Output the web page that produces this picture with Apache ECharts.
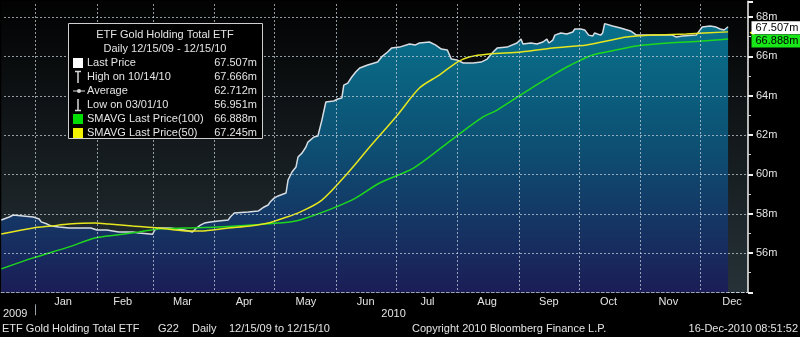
<!DOCTYPE html>
<html>
<head>
<meta charset="utf-8">
<script src="https://cdn.jsdelivr.net/npm/echarts@6/dist/echarts.min.js"></script>
<style>
  html, body { margin: 0; padding: 0; background: #000; }
  #chart { width: 800px; height: 337px; }
</style>
</head>
<body>
<div id="chart"></div>
<script>
// ETF gold holdings (millions of ounces), daily, 12/15/09 - 12/15/10
const priceDates = [
  '2009-12-15','2009-12-16','2009-12-19','2009-12-21','2009-12-22','2009-12-31',
  '2010-01-03','2010-01-04','2010-01-07','2010-01-09','2010-01-13','2010-01-18','2010-01-29',
  '2010-02-01','2010-02-03','2010-02-04','2010-02-06','2010-02-07','2010-02-12','2010-02-19','2010-02-22',
  '2010-03-01','2010-03-02','2010-03-04','2010-03-10','2010-03-17','2010-03-21','2010-03-23','2010-03-25','2010-03-27','2010-03-30',
  '2010-04-03','2010-04-08','2010-04-09','2010-04-11','2010-04-18','2010-04-23','2010-04-24','2010-04-26','2010-04-28','2010-04-29',
  '2010-05-01','2010-05-03','2010-05-07','2010-05-08','2010-05-10','2010-05-12','2010-05-13','2010-05-15','2010-05-17','2010-05-18',
  '2010-05-21','2010-05-23','2010-05-25','2010-05-27','2010-05-31',
  '2010-06-02','2010-06-04','2010-06-05','2010-06-07','2010-06-09','2010-06-11','2010-06-13','2010-06-17','2010-06-22','2010-06-24',
  '2010-06-27','2010-06-29',
  '2010-07-03','2010-07-08','2010-07-11','2010-07-13','2010-07-18','2010-07-21','2010-07-24','2010-07-27','2010-07-29',
  '2010-08-01','2010-08-04','2010-08-09','2010-08-13','2010-08-16','2010-08-19','2010-08-21','2010-08-26','2010-08-31',
  '2010-09-02','2010-09-03','2010-09-07','2010-09-10','2010-09-13','2010-09-15','2010-09-16','2010-09-18','2010-09-19',
  '2010-09-22','2010-09-25','2010-09-28','2010-09-29',
  '2010-10-02','2010-10-04','2010-10-06','2010-10-08','2010-10-09','2010-10-12','2010-10-13','2010-10-14','2010-10-18',
  '2010-10-22','2010-10-27','2010-10-30',
  '2010-11-07','2010-11-08','2010-11-17','2010-11-19','2010-11-22','2010-11-29',
  '2010-12-02','2010-12-06','2010-12-09','2010-12-11','2010-12-12','2010-12-13','2010-12-15'
];
const priceValues = [
  57.68,57.78,57.83,57.93,57.83,57.83,
  57.73,57.58,57.47,57.37,57.32,57.27,57.27,
  57.17,57.17,57.07,57.17,57.07,57.07,57.07,57.02,
  56.951,57.17,57.27,57.27,57.17,57.07,57.27,57.42,57.52,57.58,
  57.63,57.68,57.83,58.03,58.08,58.13,58.23,58.34,58.44,58.59,
  58.79,58.90,59.05,59.71,60.12,60.37,60.88,61.08,61.39,61.64,
  61.90,61.95,62.76,63.68,63.73,
  63.83,63.88,64.54,64.64,64.95,65.20,65.41,65.56,65.71,65.97,
  66.22,66.42,
  66.47,66.63,66.58,66.68,66.73,66.58,66.37,66.32,65.86,
  65.81,65.66,65.66,65.71,65.86,66.22,66.42,66.47,66.68,
  66.88,66.63,66.68,66.63,66.73,66.88,66.68,66.83,67.08,
  67.19,67.14,67.24,67.39,
  67.39,67.34,67.08,67.03,67.19,67.08,67.19,67.666,67.54,
  67.44,67.29,67.08,
  67.08,67.14,67.08,66.98,67.03,67.08,
  67.49,67.54,67.49,67.39,67.49,67.34,67.507
];

// 50-day simple moving average
const sma50Dates = [
  '2009-12-15','2009-12-31','2010-01-09','2010-01-18','2010-01-31','2010-02-07','2010-02-19',
  '2010-03-04','2010-03-19','2010-03-25','2010-04-08','2010-04-19','2010-04-28','2010-05-06',
  '2010-05-14','2010-05-25','2010-06-07','2010-06-18','2010-07-02','2010-07-13','2010-07-23',
  '2010-08-01','2010-08-07','2010-08-17','2010-09-02','2010-09-18','2010-10-05','2010-10-15',
  '2010-10-25','2010-11-07','2010-11-24','2010-12-15'
];
const sma50Values = [
  56.97,57.27,57.37,57.47,57.52,57.47,57.37,
  57.27,57.12,57.12,57.27,57.37,57.52,57.78,
  58.08,58.69,60.07,61.39,63.02,64.39,65.05,
  65.71,65.97,66.12,66.22,66.42,66.58,66.78,
  66.98,67.08,67.14,67.245
];

// 100-day simple moving average
const sma100Dates = [
  '2009-12-15','2009-12-31','2010-01-18','2010-01-31','2010-02-11','2010-02-22','2010-03-04',
  '2010-03-17','2010-04-03','2010-04-19','2010-05-03','2010-05-14','2010-06-09','2010-06-23',
  '2010-07-10','2010-07-27','2010-08-13','2010-08-21','2010-09-08','2010-09-18','2010-09-25',
  '2010-10-02','2010-10-08','2010-10-15','2010-10-30','2010-11-15','2010-12-02','2010-12-15'
];
const sma100Values = [
  55.19,55.75,56.31,56.76,56.92,57.07,57.22,
  57.27,57.32,57.42,57.52,57.68,58.69,59.56,
  60.32,61.59,62.86,63.27,64.44,65.05,65.46,
  65.81,66.07,66.22,66.53,66.68,66.78,66.888
];

const averageValue = 62.712;

// Axis setup
const xRange = ['2009-12-15', '2010-12-25'];
const yRange = [54, 68.8];
const monthStarts = ['2010-01-01','2010-02-01','2010-03-01','2010-04-01','2010-05-01','2010-06-01',
  '2010-07-01','2010-08-01','2010-09-01','2010-10-01','2010-11-01','2010-12-01'];
const monthLabelDates = ['2010-01-15','2010-02-14','2010-03-16','2010-04-16','2010-05-17','2010-06-16',
  '2010-07-17','2010-08-16','2010-09-16','2010-10-16','2010-11-15','2010-12-17'];
const monthNames = ['Jan','Feb','Mar','Apr','May','Jun','Jul','Aug','Sep','Oct','Nov','Dec'];
const yearLabelDates = ['2009-12-22', '2010-06-30'];
const yearBoundary = ['2010-01-01'];
const yTicks = [56, 58, 60, 62, 64, 66, 68];

const FONT = '"Liberation Sans", Arial, sans-serif';
const TXT = '#e4e4e4';

const ts = s => new Date(s + 'T00:00:00Z').getTime();
const pairs = (ds, vs) => ds.map((d, i) => [ts(d), vs[i]]);
const mdY = s => { const p = s.split('-'); return p[1] + '/' + p[2] + '/' + p[0].slice(2); };

const lastPrice = priceValues[priceValues.length - 1];
const hiIdx = priceValues.indexOf(Math.max(...priceValues));
const loIdx = priceValues.indexOf(Math.min(...priceValues));
const sma100Last = sma100Values[sma100Values.length - 1];
const sma50Last = sma50Values[sma50Values.length - 1];

function tag(value, bg, fg, dy) {
  return {
    coord: [ts(xRange[1]), value],
    symbol: 'rect',
    symbolSize: 1,
    itemStyle: { color: 'rgba(0,0,0,0)' },
    label: {
      show: true, position: 'right', distance: 3, offset: [0, dy],
      formatter: value.toFixed(3) + 'm',
      backgroundColor: bg, color: fg, fontFamily: FONT, fontSize: 11,
      padding: [1, 3, 0, 4], lineHeight: 12
    }
  };
}

const chart = echarts.init(document.getElementById('chart'), null, { renderer: 'canvas' });

const legendRows = [
  ['Last Price', lastPrice.toFixed(3) + 'm'],
  ['High on ' + mdY(priceDates[hiIdx]), priceValues[hiIdx].toFixed(3) + 'm'],
  ['Average', averageValue.toFixed(3) + 'm'],
  ['Low on ' + mdY(priceDates[loIdx]), priceValues[loIdx].toFixed(3) + 'm'],
  ['SMAVG Last Price(100)', sma100Last.toFixed(3) + 'm'],
  ['SMAVG Last Price(50)', sma50Last.toFixed(3) + 'm']
];

const legendEls = [
  { type: 'rect', z: 100, shape: { x: 68.5, y: 23.5, width: 194, height: 115 },
    style: { fill: '#000', stroke: '#cfcfcf', lineWidth: 1 } },
  { type: 'text', z: 101, x: 165, y: 35, style: { text: 'ETF Gold Holding Total ETF', fill: TXT,
    font: '11px ' + FONT, textAlign: 'center', textVerticalAlign: 'middle' } },
  { type: 'text', z: 101, x: 165, y: 49, style: { text: 'Daily ' + mdY(priceDates[0]) + ' - ' + mdY(priceDates[priceDates.length - 1]),
    fill: TXT, font: '11px ' + FONT, textAlign: 'center', textVerticalAlign: 'middle' } }
];
legendRows.forEach((r, i) => {
  const y = 63 + i * 14;
  legendEls.push({ type: 'text', z: 101, x: 87, y: y, style: { text: r[0], fill: TXT, font: '11px ' + FONT,
    textAlign: 'left', textVerticalAlign: 'middle' } });
  legendEls.push({ type: 'text', z: 101, x: 257, y: y, style: { text: r[1], fill: TXT, font: '11px ' + FONT,
    textAlign: 'right', textVerticalAlign: 'middle' } });
});
// legend icons
const ICON = '#d8d8d8';
legendEls.push(
  { type: 'rect', z: 101, shape: { x: 73, y: 58, width: 10, height: 10 }, style: { fill: '#ffffff' } },
  { type: 'line', z: 101, shape: { x1: 78, y1: 71, x2: 78, y2: 83 }, style: { stroke: ICON, lineWidth: 1.5 } },
  { type: 'line', z: 101, shape: { x1: 75, y1: 71.5, x2: 81, y2: 71.5 }, style: { stroke: ICON, lineWidth: 1.5 } },
  { type: 'line', z: 101, shape: { x1: 73, y1: 91, x2: 85, y2: 91 }, style: { stroke: ICON, lineWidth: 1 } },
  { type: 'circle', z: 101, shape: { cx: 79, cy: 91, r: 2 }, style: { fill: ICON } },
  { type: 'line', z: 101, shape: { x1: 78, y1: 99, x2: 78, y2: 111 }, style: { stroke: ICON, lineWidth: 1.5 } },
  { type: 'line', z: 101, shape: { x1: 75, y1: 110.5, x2: 81, y2: 110.5 }, style: { stroke: ICON, lineWidth: 1.5 } },
  { type: 'rect', z: 101, shape: { x: 73, y: 114, width: 10, height: 10 }, style: { fill: '#00dd00' } },
  { type: 'rect', z: 101, shape: { x: 73, y: 128, width: 10, height: 10 }, style: { fill: '#f2f200' } }
);

// footer
const footer = [
  ['ETF Gold Holding Total ETF', 2, 'left'],
  ['G22', 158, 'left'],
  ['Daily', 192, 'left'],
  [mdY(priceDates[0]) + ' to ' + mdY(priceDates[priceDates.length - 1]), 229, 'left'],
  ['Copyright 2010 Bloomberg Finance L.P.', 412, 'left'],
  ['16-Dec-2010 08:51:52', 798, 'right']
];
footer.forEach(f => legendEls.push({ type: 'text', x: f[1], y: 329, silent: true,
  style: { text: f[0], fill: TXT, font: '11px ' + FONT, textAlign: f[2], textVerticalAlign: 'middle' } }));

const option = {
  backgroundColor: '#000',
  animation: false,
  grid: {
    left: 0, right: 52, top: 1.3, bottom: 44.7, show: true, borderWidth: 0,
    backgroundColor: new echarts.graphic.LinearGradient(0, 0, 0, 1, [
      { offset: 0, color: '#020202' }, { offset: 1, color: '#263238' }
    ])
  },
  xAxis: [
    {
      type: 'time', min: ts(xRange[0]), max: ts(xRange[1]),
      axisLine: { show: true, lineStyle: { color: '#c4ccd4', type: [3, 2], width: 1 } },
      axisTick: { show: false }, axisLabel: { show: false }, splitLine: { show: false }
    },
    {
      // month names centred in each month
      type: 'value', min: ts(xRange[0]), max: ts(xRange[1]), position: 'bottom', offset: 0,
      axisLine: { show: false }, axisTick: { show: false }, splitLine: { show: false },
      axisLabel: {
        show: true, customValues: monthLabelDates.map(ts), margin: 4,
        color: TXT, fontFamily: FONT, fontSize: 11,
        formatter: v => monthNames[new Date(v).getUTCMonth()]
      }
    },
    {
      // year row with a divider at the year boundary
      type: 'value', min: ts(xRange[0]), max: ts(xRange[1]), position: 'bottom', offset: 12,
      axisLine: { show: false }, splitLine: { show: false },
      axisTick: { show: true, customValues: yearBoundary.map(ts), length: 11, lineStyle: { color: '#9aa0a6', width: 1 } },
      axisLabel: {
        show: true, customValues: yearLabelDates.map(ts), margin: 4,
        color: TXT, fontFamily: FONT, fontSize: 11,
        formatter: v => String(new Date(v).getUTCFullYear())
      }
    }
  ],
  yAxis: {
    type: 'value', position: 'right', min: yRange[0], max: yRange[1], interval: 2,
    axisLine: { show: true, lineStyle: { color: '#f0f0f0', width: 1.5 } },
    axisTick: { show: true, length: 5, lineStyle: { color: '#f0f0f0', width: 2 } },
    minorTick: { show: true, splitNumber: 2, length: 3, lineStyle: { color: '#d0d0d0', width: 1 } },
    axisLabel: {
      color: TXT, fontFamily: FONT, fontSize: 11, margin: 8,
      showMinLabel: false, showMaxLabel: false,
      formatter: v => v + 'm'
    },
    splitLine: { show: false }
  },
  series: [
    {
      name: 'Last Price', type: 'line', xAxisIndex: 0, yAxisIndex: 0, z: 2,
      data: pairs(priceDates, priceValues),
      symbol: 'none', lineStyle: { color: '#d6dde2', width: 1.5 },
      areaStyle: {
        opacity: 1,
        color: new echarts.graphic.LinearGradient(0, 0, 0, 1, [
          { offset: 0, color: '#08718b' }, { offset: 0.45, color: '#0d5074' }, { offset: 1, color: '#1b1d57' }
        ])
      },
      markPoint: { silent: true, data: [tag(lastPrice, '#ffffff', '#000000', 1)] }
    },
    {
      name: 'SMAVG Last Price(100)', type: 'line', xAxisIndex: 0, yAxisIndex: 0, z: 4,
      data: pairs(sma100Dates, sma100Values), smooth: 0.3,
      symbol: 'none', lineStyle: { color: '#1ed81e', width: 1.5 },
      markPoint: { silent: true, data: [tag(sma100Last, '#19e619', '#000000', 2)] }
    },
    {
      name: 'SMAVG Last Price(50)', type: 'line', xAxisIndex: 0, yAxisIndex: 0, z: 5,
      data: pairs(sma50Dates, sma50Values), smooth: 0.3,
      symbol: 'none', lineStyle: { color: '#e6e61e', width: 1.5 },
      markPoint: {
        silent: true,
        data: [{ coord: [ts(xRange[1]), sma50Last], symbol: 'triangle', symbolSize: [7, 5],
          symbolRotate: 90, symbolOffset: [4, 1], itemStyle: { color: '#f2f200' }, label: { show: false } }]
      }
    }
  ],
  graphic: legendEls
};

chart.setOption(option);

// Dotted grid: month boundaries and value ticks, placed with the axes' own scales
const DOT = 'rgba(200,210,220,0.72)';
const STEP = 4;
const gTop = Math.ceil(chart.convertToPixel({ yAxisIndex: 0 }, yRange[1]));
const gBottom = Math.floor(chart.convertToPixel({ yAxisIndex: 0 }, yRange[0]));
const gLeft = Math.ceil(chart.convertToPixel({ xAxisIndex: 0 }, ts(xRange[0])));
const gRight = Math.floor(chart.convertToPixel({ xAxisIndex: 0 }, ts(xRange[1])));
const gridEls = [];
monthStarts.forEach(d => {
  const x = Math.round(chart.convertToPixel({ xAxisIndex: 0 }, ts(d)));
  for (let y = gTop + 2; y < gBottom - 1; y += STEP) {
    gridEls.push({ type: 'rect', z: 50, silent: true, shape: { x: x, y: y, width: 1, height: 2 }, style: { fill: DOT } });
  }
});
yTicks.forEach(v => {
  const y = Math.round(chart.convertToPixel({ yAxisIndex: 0 }, v));
  for (let x = gLeft + 2; x < gRight - 1; x += STEP) {
    gridEls.push({ type: 'rect', z: 50, silent: true, shape: { x: x, y: y, width: 2, height: 1 }, style: { fill: DOT } });
  }
});
chart.setOption({ graphic: legendEls.concat(gridEls) });
</script>
</body>
</html>
